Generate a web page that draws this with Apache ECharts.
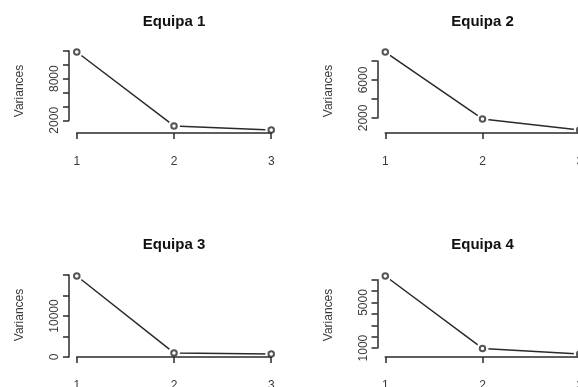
<!DOCTYPE html>
<html>
<head>
<meta charset="utf-8">
<script src="https://cdn.jsdelivr.net/npm/echarts@6/dist/echarts.min.js"></script>
<style>
html,body{margin:0;padding:0;background:#fff;overflow:hidden;}
#chart{width:640px;height:387px;}
</style>
</head>
<body>
<div id="chart"></div>
<script>
// ---- data ----
const components = [1, 2, 3];
const titles = ['Equipa 1', 'Equipa 2', 'Equipa 3', 'Equipa 4'];
const equipa1 = [11850, 1180, 600];
const equipa2 = [8950, 1890, 730];
const equipa3 = [19750, 980, 720];
const equipa4 = [7320, 965, 480];
const yTicks1 = [2000, 4000, 6000, 8000, 10000, 12000];
const yTicks2 = [2000, 4000, 6000, 8000];
const yTicks3 = [0, 5000, 10000, 15000, 20000];
const yTicks4 = [1000, 2000, 3000, 4000, 5000, 6000, 7000];
const yLabels1 = [2000, 8000];
const yLabels2 = [2000, 6000];
const yLabels3 = [0, 10000];
const yLabels4 = [1000, 5000];
const xLabels = ['1', '2', '3'];
const yName = 'Variances';

// ---- layout ----
const FONT = "'Liberation Sans', Arial, Helvetica, sans-serif";
const COL_LEFT = [69, 377.5];
const ROW_TOP = [48.9, 272.9];
const PLOT_W = 210;
const PLOT_H = 84.2;
const TITLE_Y = [22, 245];
const INK = '#2a2a2a';
const TXT = '#3a3a3a';

const panels = [
  {vals: equipa1, ticks: yTicks1, labels: yLabels1},
  {vals: equipa2, ticks: yTicks2, labels: yLabels2},
  {vals: equipa3, ticks: yTicks3, labels: yLabels3},
  {vals: equipa4, ticks: yTicks4, labels: yLabels4}
];

const grid = [], xAxis = [], yAxis = [], series = [], graphic = [];
const xMin = Math.min(...components), xMax = Math.max(...components);
const xr = xMax - xMin;
const exMin = xMin - 0.04 * xr, exMax = xMax + 0.04 * xr;

panels.forEach((p, i) => {
  const col = i % 2, row = Math.floor(i / 2);
  const L = COL_LEFT[col], T = ROW_TOP[row], W = PLOT_W, H = PLOT_H;
  const vMin = Math.min(...p.vals), vMax = Math.max(...p.vals);
  const r = vMax - vMin;
  const eyMin = vMin - 0.04 * r, eyMax = vMax + 0.04 * r;
  const ppu = H / (eyMax - eyMin);
  const tMin = p.ticks[0], tMax = p.ticks[p.ticks.length - 1];
  const step = p.ticks[1] - p.ticks[0];
  const tickTop = T + (eyMax - tMax) * ppu;
  const tickBot = T + (eyMax - tMin) * ppu;
  const pxx = W / (exMax - exMin);
  const xl = L + (xMin - exMin) * pxx;
  const xw = (xMax - xMin) * pxx;

  // data grid
  const gd = grid.length;
  grid.push({left: L, top: T, width: W, height: H, containLabel: false, outerBoundsMode: 'none'});
  xAxis.push({gridIndex: gd, type: 'value', min: exMin, max: exMax, show: false});
  yAxis.push({gridIndex: gd, type: 'value', min: eyMin, max: eyMax,
    axisLine: {show: false}, axisTick: {show: false}, axisLabel: {show: false}, splitLine: {show: false},
    name: yName, nameLocation: 'middle', nameRotate: 90, nameGap: 43,
    nameTextStyle: {fontFamily: FONT, fontSize: 12, color: TXT}});

  // axis grid
  const ga = grid.length;
  grid.push({left: xl, top: tickTop, width: xw, height: tickBot - tickTop, containLabel: false, outerBoundsMode: 'none'});
  xAxis.push({gridIndex: ga, type: 'value', min: xMin, max: xMax, interval: 1, position: 'bottom',
    offset: (T + H) - tickBot, z: 5,
    axisLine: {show: true, lineStyle: {color: INK, width: 1.5}},
    axisTick: {show: true, inside: false, length: 6, lineStyle: {color: INK, width: 1.5}},
    axisLabel: {show: true, margin: 23, fontFamily: FONT, fontSize: 12, color: TXT,
      formatter: v => xLabels[components.indexOf(v)] || ''},
    splitLine: {show: false}});
  yAxis.push({gridIndex: ga, type: 'value', min: tMin, max: tMax, interval: step, position: 'left',
    offset: xl - L, z: 5,
    axisLine: {show: true, lineStyle: {color: INK, width: 1.5}},
    axisTick: {show: true, inside: false, length: 6, lineStyle: {color: INK, width: 1.5}},
    axisLabel: {show: true, rotate: 90, margin: 8, fontFamily: FONT, fontSize: 12, color: TXT,
      formatter: v => p.labels.indexOf(v) >= 0 ? String(v) : ''},
    splitLine: {show: false}});

  const data = components.map((c, k) => [c, p.vals[k]]);
  series.push({type: 'line', xAxisIndex: gd, yAxisIndex: gd, data: data, z: 2,
    symbol: 'circle', symbolSize: 12, showSymbol: true,
    itemStyle: {color: '#ffffff', borderWidth: 0},
    lineStyle: {color: INK, width: 1.5}, silent: true, animation: false, clip: false});
  series.push({type: 'scatter', xAxisIndex: gd, yAxisIndex: gd, data: data, z: 6,
    symbol: 'emptyCircle', symbolSize: 5.5,
    itemStyle: {color: INK, borderColor: INK, borderWidth: 1.5}, silent: true, animation: false, clip: false});

  graphic.push({type: 'text', x: L + W / 2, y: TITLE_Y[row],
    style: {text: titles[i], font: 'bold 15px ' + FONT, fill: '#111', textAlign: 'center', textVerticalAlign: 'middle'}});
});

const chart = echarts.init(document.getElementById('chart'), null, {renderer: 'canvas'});
chart.setOption({
  backgroundColor: '#ffffff',
  animation: false,
  grid: grid, xAxis: xAxis, yAxis: yAxis, series: series, graphic: graphic
});
</script>
</body>
</html>
